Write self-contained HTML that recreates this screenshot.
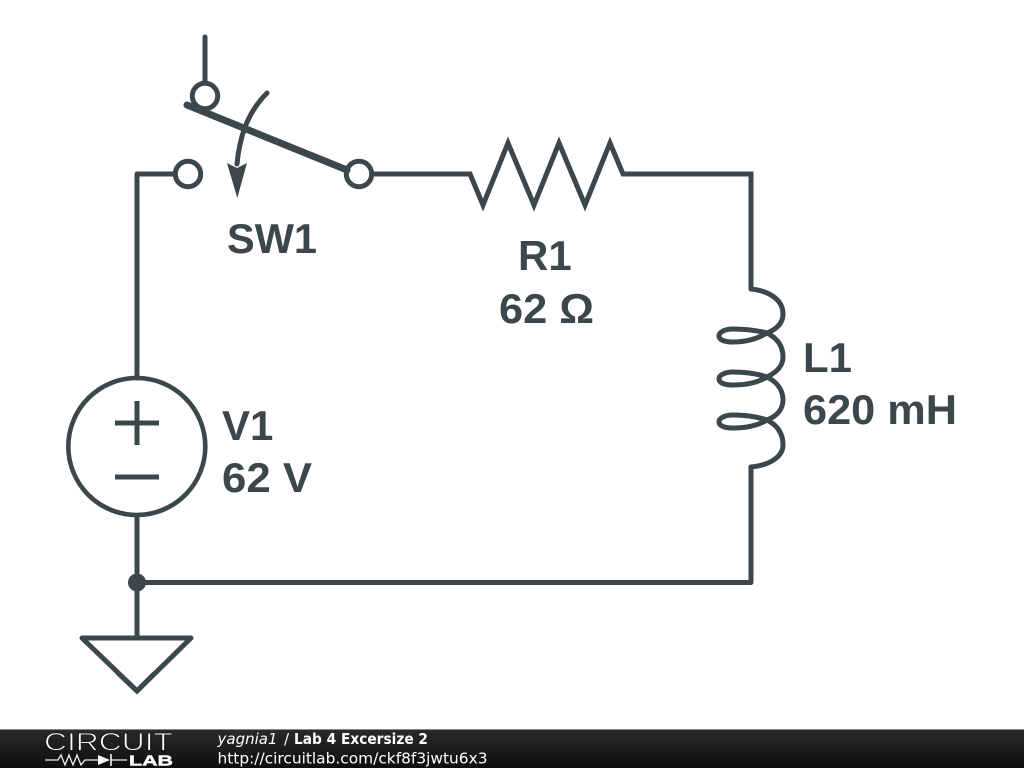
<!DOCTYPE html>
<html><head><meta charset="utf-8"><style>
html,body{margin:0;padding:0;background:#fff;width:1024px;height:768px;overflow:hidden}
svg{display:block}
</style></head><body>
<svg width="1024" height="768" viewBox="0 0 1024 768" xmlns="http://www.w3.org/2000/svg">
<defs><linearGradient id="g" x1="0" y1="0" x2="0" y2="1"><stop offset="0" stop-color="#2b2b2b"/><stop offset="1" stop-color="#0d0d0d"/></linearGradient></defs>
<rect width="1024" height="768" fill="#fff"/>
<g fill="none" stroke="#3c474c" stroke-width="5" stroke-linecap="round" stroke-linejoin="round">
<path d="M205 37V83"/>
<circle cx="205" cy="96" r="12.7"/>
<circle cx="188" cy="174" r="12.7"/>
<circle cx="359" cy="174" r="12.7"/>
<path d="M175 174H137V378"/>
<path d="M372 174H470L483 205L508 143L534 205L559 143L585 205L610 143L623 174H751V289" stroke-linejoin="miter" stroke-miterlimit="10" stroke-linecap="butt"/>
<path d="M751 289C771 291 783 301 783 314C783 323 777 329 767 333C755 330 744 329 733 329C725 329 719 332 719 336C719 340 725 342 733 342C745 342 757 339 767 333C777 338 783 346 783 357C783 366 777 372 767 377C755 373 744 372 733 372C725 372 719 375 719 379C719 383 725 385 733 385C745 385 757 383 767 377C777 382 783 390 783 400C783 409 777 416 767 420C755 416 744 415 733 415C725 415 719 418 719 422C719 426 725 428 733 428C745 428 757 426 767 420C777 425 783 433 783 445C783 456 771 465 751 467"/>
<path d="M751 467V582.5H137"/>
<circle cx="136.8" cy="446.5" r="68.5" stroke-width="4.6"/>
<path d="M137 516V637"/>
<path d="M137 401V445M115 423H159M115 477H159" stroke-linecap="butt"/>
<path d="M82 638H191L137 691Z"/>
<path d="M118 673L137 691L155 673" stroke-linejoin="miter" stroke-linecap="butt"/>
<path d="M267 93C250 110 240 132 237 164"/>
</g>
<path d="M187 105L347 170" fill="none" stroke="#3c474c" stroke-width="7" stroke-linecap="round"/>
<circle cx="137" cy="582.5" r="9" fill="#3c474c"/>
<path d="M227 163L237 168L247 163L237.3 198Z" fill="#3c474c"/>
<g font-family="'Liberation Sans',sans-serif" font-weight="700" font-size="42" fill="#3c474c">
<text x="227" y="253" textLength="90" lengthAdjust="spacingAndGlyphs">SW1</text>
<text x="518" y="270">R1</text>
<text x="499" y="323" textLength="95" lengthAdjust="spacingAndGlyphs">62 Ω</text>
<text x="803" y="372">L1</text>
<text x="803" y="424" textLength="154" lengthAdjust="spacingAndGlyphs">620 mH</text>
<text x="222" y="440">V1</text>
<text x="222" y="492" textLength="90" lengthAdjust="spacingAndGlyphs">62 V</text>
</g>
<rect y="729" width="1024" height="39" fill="url(#g)"/>
<rect y="729" width="1024" height="1" fill="#888"/>
<text x="44" y="750.5" font-family="'Liberation Sans',sans-serif" font-size="25" textLength="129" lengthAdjust="spacingAndGlyphs" fill="#fff" stroke="#1c1c1c" stroke-width="0.9">CIRCUIT</text>
<path d="M45 760H58L61 755L65 765L69 755L73 765L77 755L81 765L85 760H98M111 760H127" fill="none" stroke="#eee" stroke-width="1.3"/>
<path d="M98 755L110 760L98 765Z" fill="#fff"/>
<path d="M111 754V766" stroke="#fff" stroke-width="1.5"/>
<text x="129" y="765.5" font-family="'Liberation Sans',sans-serif" font-size="15" font-weight="700" textLength="44" lengthAdjust="spacingAndGlyphs" fill="#fff" stroke="#fff" stroke-width="0.4">LAB</text>
<g font-family="'DejaVu Sans',sans-serif" font-size="15" fill="#fff">
<text x="217.5" y="744" font-style="italic" textLength="60" lengthAdjust="spacingAndGlyphs">yagnia1</text>
<text x="284" y="744">/</text>
<text x="294" y="744" font-weight="700" textLength="134" lengthAdjust="spacingAndGlyphs">Lab 4 Excersize 2</text>
<text x="217.5" y="763.5" textLength="270" lengthAdjust="spacingAndGlyphs">http://circuitlab.com/ckf8f3jwtu6x3</text>
</g>
</svg>
</body></html>
